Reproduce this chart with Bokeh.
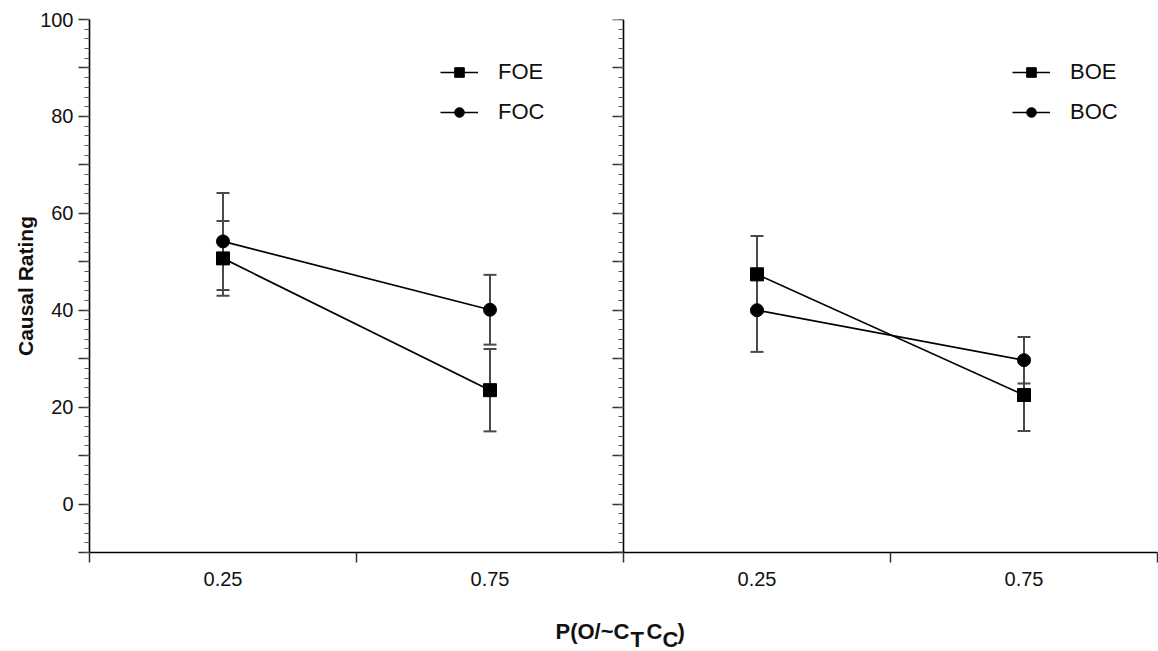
from bokeh.plotting import figure
from bokeh.layouts import column
from bokeh.models import (ColumnDataSource, Range1d, LinearAxis, FixedTicker,
                          Whisker, TeeHead, Legend, LegendItem)
from bokeh.core.properties import value
from bokeh.embed import file_html
from bokeh.resources import INLINE

# ---------------- data ----------------
tick_labels = ["0.25", "0.75"]          # P(O/~CtCc) levels
x_vals = [0.25, 0.75]
panel_offset = [0.0, 1.0]               # left panel (forward), right panel (backward)

foe_mean = [50.7, 23.5]
foe_err = [7.7, 8.5]
foc_mean = [54.2, 40.1]
foc_err = [10.0, 7.2]

boe_mean = [47.4, 22.5]
boe_err = [7.9, 7.4]
boc_mean = [40.0, 29.7]
boc_err = [8.6, 4.8]

y_major = list(range(-10, 101, 10))
y_minor = list(range(-10, 101, 2))

# x-axis title pieces: text, pixel offset from the middle line, subscript flag
title_text = ["P(O/~C", "T", "C", "C", ")"]
title_dx = [-68, 7, 23, 39, 54]
title_sub = [False, True, False, True, False]

FONT = "Liberation Sans"
ERR_COLOR = "#4a4a4a"
TXT = "#111111"

W = 1158
p = figure(width=W, height=600, x_range=Range1d(0, 2), y_range=Range1d(-10, 100),
           output_backend="svg", toolbar_location=None,
           min_border_left=89, min_border_right=1, min_border_top=19, min_border_bottom=48)
p.grid.visible = False
p.outline_line_color = None


def add_series(name, mean, err, offset, marker):
    xs = [x + offset for x in x_vals]
    src = ColumnDataSource(dict(x=xs, y=mean,
                                upper=[m + e for m, e in zip(mean, err)],
                                lower=[m - e for m, e in zip(mean, err)]))
    w = Whisker(source=src, base="x", upper="upper", lower="lower",
                line_color=ERR_COLOR, line_width=2, level="underlay",
                upper_head=TeeHead(size=13, line_color=ERR_COLOR, line_width=2),
                lower_head=TeeHead(size=13, line_color=ERR_COLOR, line_width=2))
    p.add_layout(w)
    ln = p.line("x", "y", source=src, line_color="black", line_width=1.7)
    sc = p.scatter("x", "y", source=src, marker=marker, size=13,
                   fill_color="black", line_color="black")
    return LegendItem(label=name, renderers=[ln, sc])


items_left = [add_series("FOE", foe_mean, foe_err, panel_offset[0], "square"),
              add_series("FOC", foc_mean, foc_err, panel_offset[0], "circle")]
items_right = [add_series("BOE", boe_mean, boe_err, panel_offset[1], "square"),
               add_series("BOC", boc_mean, boc_err, panel_offset[1], "circle")]


def make_legend(items, vx):
    return Legend(items=items, location=(vx, 427), orientation="vertical",
                  glyph_width=38, glyph_height=24, label_height=26, label_standoff=20,
                  spacing=14, padding=0, margin=0,
                  border_line_alpha=0, background_fill_alpha=0,
                  label_text_font=FONT, label_text_font_size="22px", label_text_color=TXT)


p.add_layout(make_legend(items_left, 351))
p.add_layout(make_legend(items_right, 923))

# ---------------- x axis ----------------
xa = p.xaxis[0]
major_x = [x + o for o in panel_offset for x in x_vals]
minor_x = [o + f for o in panel_offset for f in (0.0, 0.5)] + [2.0]
xa.ticker = FixedTicker(ticks=major_x, minor_ticks=minor_x)
xa.major_label_overrides = {x + o: lab for o in panel_offset for x, lab in zip(x_vals, tick_labels)}
xa.major_tick_in = 0
xa.major_tick_out = 0
xa.minor_tick_in = 0
xa.minor_tick_out = 10
xa.minor_tick_line_color = "#333333"
xa.minor_tick_line_width = 1.5
xa.axis_line_color = "black"
xa.axis_line_width = 1.6
xa.major_label_standoff = 9
xa.major_label_text_font = FONT
xa.major_label_text_font_size = "20px"
xa.major_label_text_color = TXT

# ---------------- left y axis ----------------
ya = p.yaxis[0]
ya.ticker = FixedTicker(ticks=y_major, minor_ticks=y_minor)
ya.major_label_overrides = {v: "" for v in y_major if v % 20 != 0}
ya.major_tick_in = 0
ya.major_tick_out = 11
ya.minor_tick_in = 0
ya.minor_tick_out = 5
ya.major_tick_line_color = "#333333"
ya.major_tick_line_width = 1.5
ya.minor_tick_line_color = "#555555"
ya.minor_tick_line_width = 1
ya.axis_line_color = "black"
ya.axis_line_width = 1.6
ya.major_label_standoff = 5
ya.major_label_text_font = FONT
ya.major_label_text_font_size = "20px"
ya.major_label_text_color = TXT
ya.axis_label = "Causal Rating"
ya.axis_label_text_font = FONT
ya.axis_label_text_font_size = "21px"
ya.axis_label_text_font_style = "bold"
ya.axis_label_text_color = TXT
ya.axis_label_standoff = 0

# ---------------- middle axis (right panel's y axis) ----------------
mid = LinearAxis(fixed_location=panel_offset[1],
                 ticker=FixedTicker(ticks=y_major, minor_ticks=y_minor),
                 major_label_overrides={v: "" for v in y_major},
                 major_tick_in=11, major_tick_out=0,
                 minor_tick_in=5, minor_tick_out=0,
                 major_tick_line_color="#333333", major_tick_line_width=1.5,
                 minor_tick_line_color="#555555", minor_tick_line_width=1,
                 axis_line_color="black", axis_line_width=1.6)
p.add_layout(mid, "right")

# ---------------- x axis title P(O/~C_T C_C) in a strip below ----------------
pt = figure(width=W, height=51, x_range=p.x_range, y_range=Range1d(0, 51),
            output_backend="svg", toolbar_location=None,
            x_axis_location=None, y_axis_location=None,
            min_border_left=89, min_border_right=1, min_border_top=0, min_border_bottom=0)
pt.grid.visible = False
pt.outline_line_color = None
tsrc = ColumnDataSource(dict(x=[panel_offset[1]] * len(title_text),
                             y=[12.5 if s else 20 for s in title_sub],
                             dx=title_dx, text=title_text))
pt.text(x="x", y="y", text="text", x_offset="dx", source=tsrc,
        text_align="left", text_baseline="middle",
        text_font=value(FONT), text_font_size="22px", text_font_style="bold",
        text_color=TXT)

layout = column(p, pt, spacing=0)
open("out.html", "w").write(file_html(layout, INLINE))
